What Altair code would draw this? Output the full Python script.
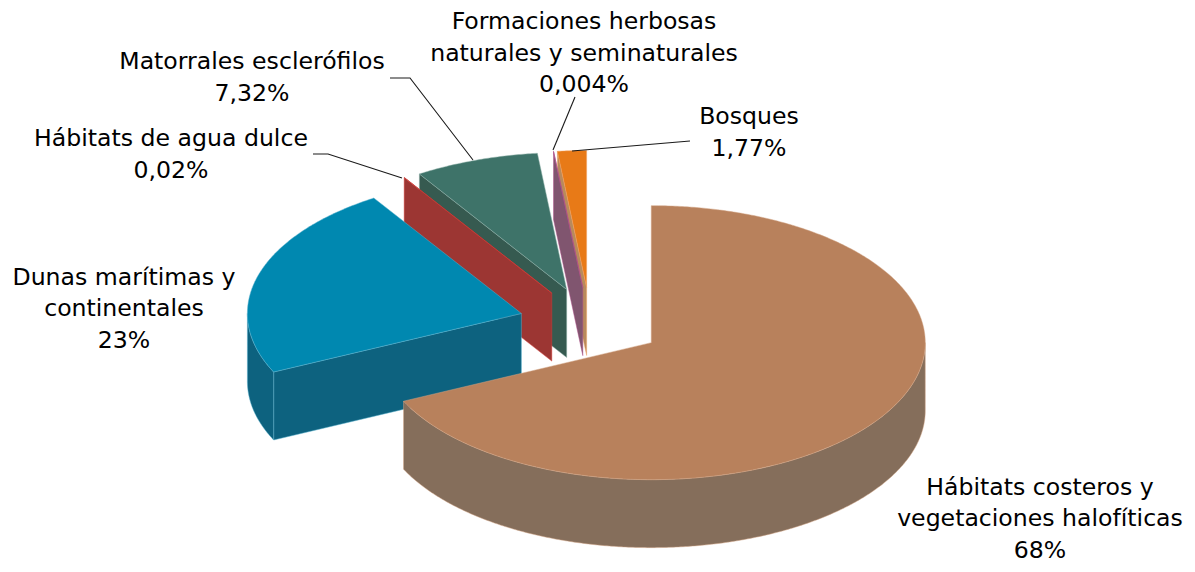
import math
import altair as alt
import pandas as pd

# Chart data, in drawing sequence clockwise from 12 o'clock
categories = ["Hábitats costeros", "Dunas", "Agua dulce", "Matorrales", "Formaciones herbosas", "Bosques"]
shares = [67.9, 22.95, 0.02, 7.32, 0.004, 1.70]
top_colors = ["#B8815C", "#0088B0", "#9C3633", "#3E7369", "#B0508C", "#E87A17"]
wall_colors = ["#856E5B", "#0D627F", "#9C3633", "#365A50", "#80556F", "#B88A5C"]
edge_colors = ["#D3A585", "#5CB4CF", "#D63C36", "#8FB0A9", "#B0508C", "#F0A060"]

label_lines = ["Formaciones herbosas", "naturales y seminaturales", "0,004%",
               "Matorrales esclerófilos", "7,32%",
               "Hábitats de agua dulce", "0,02%",
               "Bosques", "1,77%",
               "Dunas marítimas y", "continentales", "23%",
               "Hábitats costeros y", "vegetaciones halofíticas", "68%"]
label_x = [584, 584, 584, 252, 252, 171, 171, 749, 749, 124, 124, 124, 1040, 1040, 1040]
label_y = [22, 54, 85, 62, 94, 139, 171, 117, 149, 278, 309, 341, 488, 519, 551]

leaders = [[(390, 78), (410, 78), (473, 160)],
           [(313, 154), (328, 154), (402, 178)],
           [(575, 97), (553, 150)],
           [(690, 141), (572, 151)]]

# Projection of the tilted pie
CX, CY, RX, RY, DEPTH, EXPLODE = 590.5, 323.4, 274, 137, 68, 0.2625


def rim(c, deg, dy=0):
    a = math.radians(deg)
    return (c[0] + RX * math.sin(a), c[1] - RY * math.cos(a) + dy)


def arc(c, a0, a1, dy=0):
    n = max(2, int((a1 - a0) * 2) + 2)
    return [rim(c, a0 + (a1 - a0) * i / (n - 1), dy) for i in range(n)]


def feature(ring, fill, stroke):
    ring = [list(p) for p in ring]
    ring.append(ring[0])
    return {"type": "Feature", "geometry": {"type": "Polygon", "coordinates": [ring]},
            "properties": {"fill": fill, "stroke": stroke}}


total = sum(shares)
spans = []
start = 0.0
for s in shares:
    spans.append((start, start + s / total * 360))
    start += s / total * 360

features = []
for i in reversed(range(len(shares))):
    a0, a1 = spans[i]
    mid = math.radians((a0 + a1) / 2)
    c = (CX + EXPLODE * RX * math.sin(mid), CY - EXPLODE * RY * math.cos(mid))
    wall, edge = wall_colors[i], edge_colors[i]
    if 180 < a0 < 360:
        p = rim(c, a0)
        features.append(feature([c, p, (p[0], p[1] + DEPTH), (c[0], c[1] + DEPTH)], wall, edge))
    if 0 < a1 < 180:
        p = rim(c, a1)
        features.append(feature([c, p, (p[0], p[1] + DEPTH), (c[0], c[1] + DEPTH)], wall, edge))
    lo, hi = max(a0, 90), min(a1, 270)
    if lo < hi:
        features.append(feature(arc(c, lo, hi) + arc(c, lo, hi, DEPTH)[::-1], wall, edge))
    features.append(feature([c] + arc(c, a0, a1), top_colors[i], edge))

projection = alt.Projection(type="identity", scale=1, translate=[-8, -8])

slices = alt.Chart(alt.Data(values=features)).mark_geoshape(strokeWidth=0.6, strokeOpacity=0.8).encode(
    fill=alt.Fill("properties.fill:N", scale=None),
    stroke=alt.Stroke("properties.stroke:N", scale=None),
).project(**projection.to_dict())

leader_features = [{"type": "Feature", "properties": {},
                    "geometry": {"type": "LineString", "coordinates": [list(p) for p in l]}} for l in leaders]
lines = alt.Chart(alt.Data(values=leader_features)).mark_geoshape(
    filled=False, stroke="#1a1a1a", strokeWidth=1.1
).project(**projection.to_dict())

labels = alt.Chart(pd.DataFrame({"t": label_lines, "x": label_x, "y": label_y})).mark_text(
    font="DejaVu Sans", fontSize=23.6, color="#000000", align="center", baseline="middle"
).encode(
    x=alt.X("x:Q", scale=alt.Scale(domain=[8, 1187], range=[0, 1179]), axis=None),
    y=alt.Y("y:Q", scale=alt.Scale(domain=[8, 564], range=[0, 556]), axis=None),
    text="t:N",
)

chart = alt.layer(slices, lines, labels).properties(
    width=1179, height=556, padding=0, autosize=alt.AutoSizeParams(type="none")
).configure_view(stroke=None)

chart.save("out.html", embed_options={"renderer": "svg", "actions": False})
